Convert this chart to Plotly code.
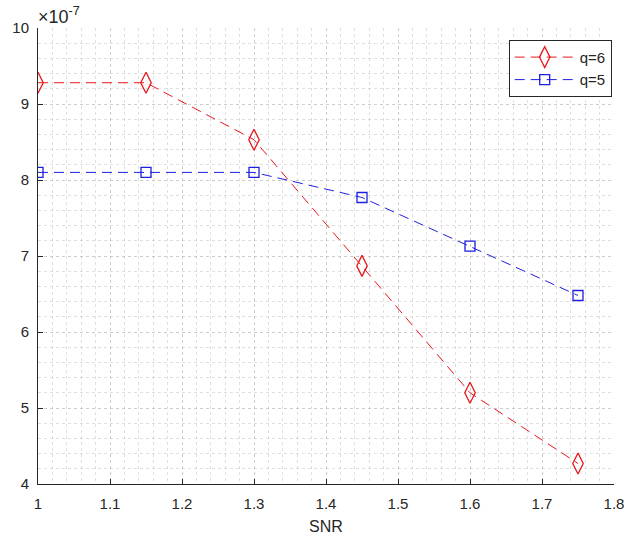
import plotly.graph_objects as go

snr = [1.0, 1.15, 1.3, 1.45, 1.6, 1.75]
ber_q6 = [9.28, 9.28, 8.53, 6.87, 5.20, 4.27]   # x 1e-7
ber_q5 = [8.10, 8.10, 8.10, 7.77, 7.13, 6.48]   # x 1e-7
x_ticks = [1, 1.1, 1.2, 1.3, 1.4, 1.5, 1.6, 1.7, 1.8]
x_ticktext = ["1", "1.1", "1.2", "1.3", "1.4", "1.5", "1.6", "1.7", "1.8"]
y_ticks = [4, 5, 6, 7, 8, 9, 10]

font_family = "Liberation Sans, Arial, sans-serif"
axis_col = "#262626"
grid_col = "rgba(185,185,185,0.45)"

fig = go.Figure()
fig.add_trace(go.Scatter(
    x=snr, y=ber_q6, name="q=6", mode="lines+markers",
    line=dict(color="#E8171C", width=1, dash="10px,6px"),
    marker=dict(symbol="diamond-tall-open", size=15, color="#E8171C", line=dict(width=1.3)),
))
fig.add_trace(go.Scatter(
    x=snr, y=ber_q5, name="q=5", mode="lines+markers",
    line=dict(color="#1F1FE0", width=1, dash="10px,6px"),
    marker=dict(symbol="square-open", size=10, color="#1F1FE0", line=dict(width=1.3)),
))

fig.update_layout(
    width=624, height=535,
    margin=dict(l=38, r=10, t=28, b=51, autoexpand=False),
    paper_bgcolor="white", plot_bgcolor="white",
    font=dict(family=font_family, size=15, color=axis_col),
    showlegend=True,
    legend=dict(
        x=0.996, y=0.974, xanchor="right", yanchor="top",
        bgcolor="white", bordercolor=axis_col, borderwidth=1,
        font=dict(size=15, color=axis_col),
        tracegroupgap=0, itemwidth=60,
    ),
)
fig.update_xaxes(
    range=[1, 1.8], tickvals=x_ticks, ticktext=x_ticktext, automargin=False,
    ticks="inside", ticklen=5, tickcolor=axis_col, ticklabelstandoff=6,
    ticklabeloverflow="allow",
    showline=True, linecolor=axis_col, linewidth=1, mirror=False,
    showgrid=True, gridcolor=grid_col, griddash="dot", gridwidth=1,
    minor=dict(dtick=0.02, showgrid=True, gridcolor=grid_col, griddash="dot", gridwidth=1),
    zeroline=False,
    title=dict(text="SNR", font=dict(size=16), standoff=9),
    tickfont=dict(size=15),
)
fig.update_yaxes(
    range=[4, 10], tickvals=y_ticks, automargin=False,
    ticks="inside", ticklen=5, tickcolor=axis_col, ticklabelstandoff=5,
    ticklabeloverflow="allow",
    showline=True, linecolor=axis_col, linewidth=1, mirror=False,
    showgrid=True, gridcolor=grid_col, griddash="dot", gridwidth=1,
    minor=dict(dtick=0.2, showgrid=True, gridcolor=grid_col, griddash="dot", gridwidth=1),
    zeroline=False,
    tickfont=dict(size=15),
)
fig.add_annotation(
    text="×10<sup>-7</sup>", xref="paper", yref="paper", x=0, y=1,
    xanchor="left", yanchor="bottom", showarrow=False, xshift=-2, yshift=-1,
    font=dict(size=18, color=axis_col),
)
fig.add_annotation(
    text="BER", xref="paper", yref="paper", x=0, y=0.5, textangle=-90,
    xanchor="center", yanchor="middle", showarrow=False, xshift=-45,
    font=dict(size=16, color=axis_col),
)

fig.write_html("out.html")
